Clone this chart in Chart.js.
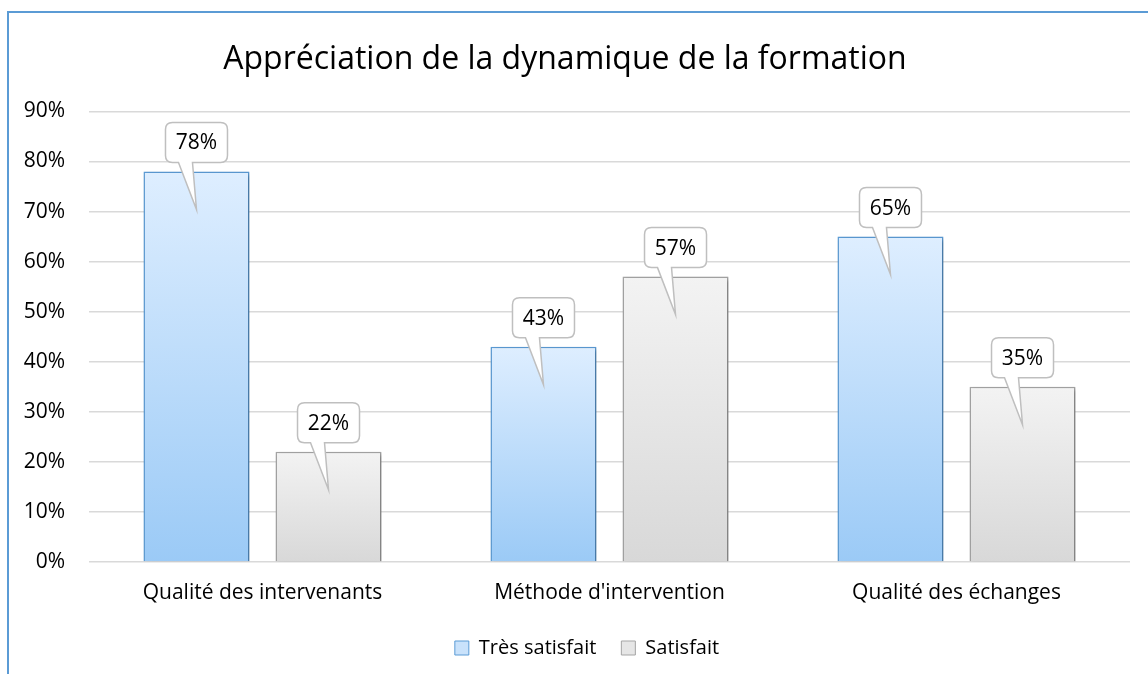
<!DOCTYPE html>
<html>
<head>
<meta charset="utf-8">
<script src="https://cdn.jsdelivr.net/npm/chart.js@4"></script>
<style>
    html, body { margin: 0; padding: 0; background: #ffffff; }
    #frame {
        position: absolute; left: 7px; top: 11px; width: 1200px; height: 700px;
        border-left: 2px solid #5b9bd5; border-top: 2px solid #5b9bd5;
    }
    #wrap { position: absolute; left: 0; top: 0; width: 1148px; height: 674px; }
</style>
</head>
<body>
<div id="frame"></div>
<div id="wrap"><canvas id="chart" width="1148" height="674"></canvas></div>
<script>
// données du graphique
const categories = ["Qualité des intervenants", "Méthode d'intervention", "Qualité des échanges"];
const tresSatisfait = [78, 43, 65];
const satisfait = [22, 57, 35];
const yTicks = [0, 10, 20, 30, 40, 50, 60, 70, 80, 90];

const FONT = "'Open Sans', sans-serif";

// dégradé par barre (clair en haut, foncé en bas)
function barGradient(top, bottom) {
    return function(ctx) {
        const chart = ctx.chart;
        const area = chart.chartArea;
        if (!area || ctx.type !== 'data') return bottom;
        const yScale = chart.scales.y;
        const yTop = yScale.getPixelForValue(ctx.raw);
        const g = chart.ctx.createLinearGradient(0, yTop, 0, area.bottom);
        g.addColorStop(0, top);
        g.addColorStop(1, bottom);
        return g;
    };
}

// bulles avec étiquette de valeur
const calloutPlugin = {
    id: 'callouts',
    afterLayout(chart) {
        // légende un peu décalée vers la droite comme dans l'original
        chart.legend.left += 22;
        chart.legend.right += 22;
    },
    beforeDatasetsDraw(chart) {
        const c = chart.ctx;
        c.save();
        c.shadowColor = 'rgba(0,0,0,0.28)';
        c.shadowBlur = 4;
        c.shadowOffsetX = 2;
        c.shadowOffsetY = 2;
    },
    afterDatasetsDraw(chart) {
        const c = chart.ctx;
        c.restore();
        chart.data.datasets.forEach(function(ds, di) {
            const meta = chart.getDatasetMeta(di);
            meta.data.forEach(function(bar, i) {
                const w = 62, h = 40, r = 7;
                const cx = bar.x;
                const bottom = bar.y - 9;
                const top = bottom - h;
                const left = cx - w / 2, right = cx + w / 2;
                const tipY = bar.y + 38;
                c.save();
                c.beginPath();
                c.moveTo(left + r, top);
                c.lineTo(right - r, top);
                c.quadraticCurveTo(right, top, right, top + r);
                c.lineTo(right, bottom - r);
                c.quadraticCurveTo(right, bottom, right - r, bottom);
                c.lineTo(cx - 4, bottom);
                c.lineTo(cx, tipY);
                c.lineTo(cx - 18, bottom);
                c.lineTo(left + r, bottom);
                c.quadraticCurveTo(left, bottom, left, bottom - r);
                c.lineTo(left, top + r);
                c.quadraticCurveTo(left, top, left + r, top);
                c.closePath();
                c.fillStyle = '#ffffff';
                c.fill();
                c.lineWidth = 1.5;
                c.strokeStyle = '#bfbfbf';
                c.stroke();
                c.fillStyle = '#000000';
                c.font = '21px ' + FONT;
                c.textAlign = 'center';
                c.textBaseline = 'middle';
                c.fillText(ds.data[i] + '%', cx, top + h / 2 + 1);
                c.restore();
            });
        });
    }
};

new Chart(document.getElementById('chart'), {
    type: 'bar',
    data: {
        labels: categories,
        datasets: [
            {
                label: 'Très satisfait',
                data: tresSatisfait,
                backgroundColor: barGradient('#deeeff', '#9bcaf6'),
                borderColor: '#5b9bd5',
                borderWidth: 1.5,
                legendFill: '#c9e2fb'
            },
            {
                label: 'Satisfait',
                data: satisfait,
                backgroundColor: barGradient('#f3f3f3', '#d8d8d8'),
                borderColor: '#a5a5a5',
                borderWidth: 1.5,
                legendFill: '#e6e6e6'
            }
        ]
    },
    options: {
        responsive: false,
        animation: false,
        layout: { padding: { left: 0, right: 18, top: 20, bottom: 6 } },
        categoryPercentage: 0.761,
        barPercentage: 0.803,
        plugins: {
            title: {
                display: true,
                text: 'Appréciation de la dynamique de la formation',
                color: '#000000',
                font: { family: FONT, size: 32, weight: 'normal' },
                padding: { top: 21, bottom: 32 }
            },
            legend: {
                position: 'bottom',
                labels: {
                    color: '#000000',
                    font: { family: FONT, size: 20 },
                    boxWidth: 14,
                    boxHeight: 14,
                    padding: 25,
                    generateLabels(chart) {
                        return chart.data.datasets.map(function(ds, i) {
                            return {
                                text: ds.label,
                                fillStyle: ds.legendFill,
                                strokeStyle: ds.borderColor,
                                lineWidth: 1,
                                datasetIndex: i
                            };
                        });
                    }
                }
            },
            tooltip: { enabled: false }
        },
        scales: {
            x: {
                grid: { display: false },
                border: { display: false },
                afterFit(scale) { scale.height = 51; },
                ticks: { color: '#000000', font: { family: FONT, size: 21 }, padding: 10 }
            },
            y: {
                min: 0,
                max: 90,
                afterBuildTicks(scale) {
                    scale.ticks = yTicks.map(function(v) { return { value: v }; });
                },
                afterFit(scale) { scale.width = 89; },
                grid: { color: '#d9d9d9', lineWidth: 1.5, drawTicks: false },
                border: { display: false },
                ticks: {
                    color: '#000000',
                    font: { family: FONT, size: 21 },
                    padding: 24,
                    callback: function(v) { return v + '%'; }
                }
            }
        }
    },
    plugins: [calloutPlugin]
});
</script>
</body>
</html>
